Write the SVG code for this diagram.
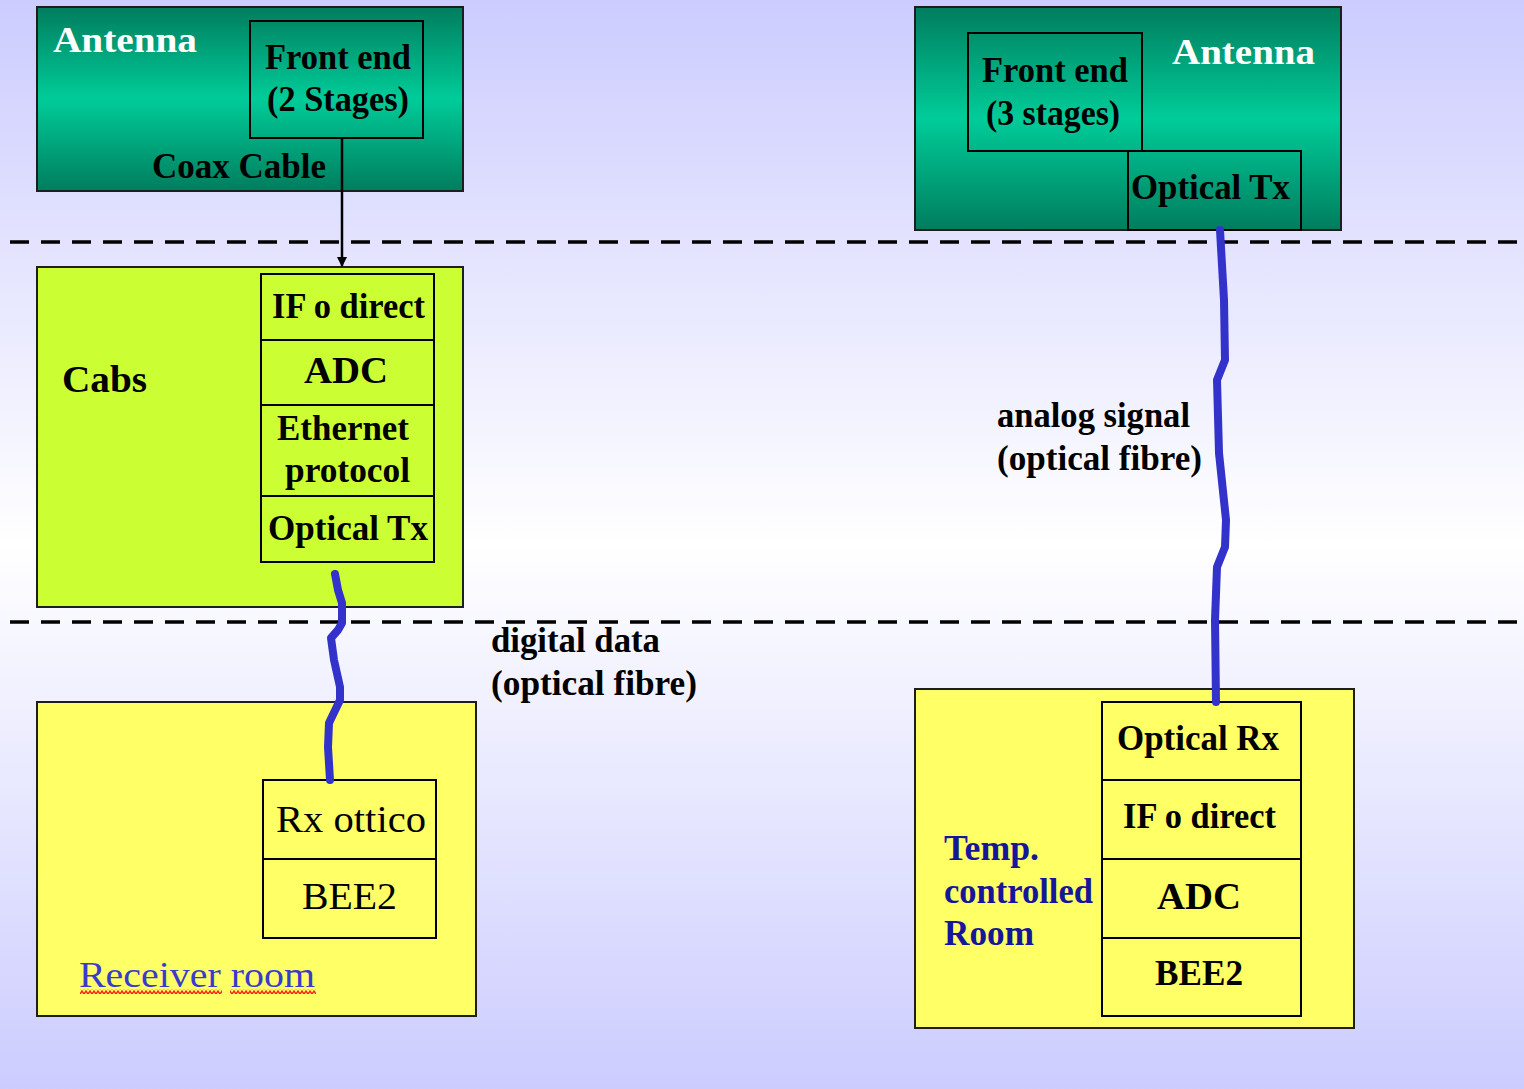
<svg xmlns="http://www.w3.org/2000/svg" width="1524" height="1089" viewBox="0 0 1524 1089">
  <defs>
    <linearGradient id="bg" x1="0" y1="0" x2="0" y2="1">
      <stop offset="0" stop-color="#ccccff"/>
      <stop offset="0.5" stop-color="#ffffff"/>
      <stop offset="1" stop-color="#ccccff"/>
    </linearGradient>
    <linearGradient id="tealLeft" gradientUnits="userSpaceOnUse" x1="0" y1="7" x2="0" y2="191">
      <stop offset="0" stop-color="#007d5e"/>
      <stop offset="0.5" stop-color="#00cc99"/>
      <stop offset="1" stop-color="#007d5e"/>
    </linearGradient>
    <linearGradient id="tealRight" gradientUnits="userSpaceOnUse" x1="0" y1="7" x2="0" y2="230">
      <stop offset="0" stop-color="#007d5e"/>
      <stop offset="0.5" stop-color="#00cc99"/>
      <stop offset="1" stop-color="#007d5e"/>
    </linearGradient>
    <pattern id="squiggle" x="0" y="0" width="4" height="5" patternUnits="userSpaceOnUse">
      <path d="M0 4 L2 1 L4 4" fill="none" stroke="#ff2020" stroke-width="1.4"/>
    </pattern>
    <marker id="arrow" viewBox="0 0 10 10" refX="9" refY="5" markerWidth="10" markerHeight="10" orient="auto" markerUnits="userSpaceOnUse">
      <path d="M0 0 L10 5 L0 10 Z" fill="#000"/>
    </marker>
  </defs>
  <style>
    .box { stroke: #1e1e1e; stroke-width: 2; }
    .cell { fill: none; stroke: #000; stroke-width: 2; }
    text { font-family: "Liberation Serif", "Times New Roman", serif; }
    .b { font-weight: bold; font-size: 35px; fill: #000; }
    .r { font-weight: normal; font-size: 38px; fill: #000; }
    .white { fill: #ffffff; }
    .navy { fill: #16169a; }
    .blue { fill: #3a3acc; }
    .sep { stroke: #000; stroke-width: 3.5; stroke-dasharray: 19 12; fill: none; }
    .fibre { fill: none; stroke: #3333cc; stroke-width: 8; stroke-linejoin: round; stroke-linecap: round; }
    .coax { fill: none; stroke: #000; stroke-width: 2.5; }
  </style>

  <!-- background -->
  <rect x="0" y="0" width="1524" height="1089" fill="url(#bg)"/>

  <!-- zone separators -->
  <line class="sep" x1="10" y1="242" x2="1524" y2="242"/>
  <line class="sep" x1="10" y1="622" x2="1524" y2="622"/>

  <!-- antenna with 2-stage front end -->
  <g id="antenna-left">
    <rect class="box" x="37" y="7" width="426" height="184" fill="url(#tealLeft)"/>
    <rect class="cell" x="250" y="21" width="173" height="117"/>
    <text class="b white" x="53" y="52" textLength="144" lengthAdjust="spacingAndGlyphs">Antenna</text>
    <text class="b" x="265" y="69" textLength="146" lengthAdjust="spacingAndGlyphs">Front end</text>
    <text class="b" x="267" y="111" textLength="142" lengthAdjust="spacingAndGlyphs">(2 Stages)</text>
    <text class="b" x="152" y="178" textLength="174" lengthAdjust="spacingAndGlyphs">Coax Cable</text>
  </g>

  <!-- antenna with 3-stage front end and optical transmitter -->
  <g id="antenna-right">
    <rect class="box" x="915" y="7" width="426" height="223" fill="url(#tealRight)"/>
    <rect class="cell" x="968" y="33" width="174" height="118"/>
    <rect class="cell" x="1128" y="151" width="173" height="79"/>
    <text class="b white" x="1172" y="64" textLength="143" lengthAdjust="spacingAndGlyphs">Antenna</text>
    <text class="b" x="982" y="82" textLength="146" lengthAdjust="spacingAndGlyphs">Front end</text>
    <text class="b" x="986" y="125" textLength="134" lengthAdjust="spacingAndGlyphs">(3 stages)</text>
    <text class="b" x="1131" y="199" textLength="159" lengthAdjust="spacingAndGlyphs">Optical Tx</text>
  </g>

  <!-- cabs -->
  <g id="cabs">
    <rect class="box" x="37" y="267" width="426" height="340" fill="#ccff33"/>
    <rect class="cell" x="261" y="274" width="173" height="288"/>
    <line class="cell" x1="261" y1="340" x2="434" y2="340"/>
    <line class="cell" x1="261" y1="405" x2="434" y2="405"/>
    <line class="cell" x1="261" y1="496" x2="434" y2="496"/>
    <text class="b" x="62" y="392" textLength="85" lengthAdjust="spacingAndGlyphs" style="font-size:38px">Cabs</text>
    <text class="b" x="272" y="318" textLength="153" lengthAdjust="spacingAndGlyphs">IF o direct</text>
    <text class="b" x="304" y="383" textLength="84" lengthAdjust="spacingAndGlyphs" style="font-size:38px">ADC</text>
    <text class="b" x="277" y="440" textLength="132" lengthAdjust="spacingAndGlyphs">Ethernet</text>
    <text class="b" x="285" y="482" textLength="125" lengthAdjust="spacingAndGlyphs">protocol</text>
    <text class="b" x="268" y="540" textLength="160" lengthAdjust="spacingAndGlyphs">Optical Tx</text>
  </g>

  <!-- receiver room -->
  <g id="receiver-room">
    <rect class="box" x="37" y="702" width="439" height="314" fill="#ffff66"/>
    <rect class="cell" x="263" y="780" width="173" height="158"/>
    <line class="cell" x1="263" y1="859" x2="436" y2="859"/>
    <text class="r" x="276" y="832" textLength="150" lengthAdjust="spacingAndGlyphs">Rx ottico</text>
    <text class="r" x="302" y="909" textLength="95" lengthAdjust="spacingAndGlyphs">BEE2</text>
    <text class="r blue" x="79" y="987" textLength="236" lengthAdjust="spacingAndGlyphs" style="font-size:36px">Receiver room</text>
    <rect x="80" y="989" width="142" height="5" fill="url(#squiggle)"/>
    <rect x="230" y="989" width="86" height="5" fill="url(#squiggle)"/>
  </g>

  <!-- temperature controlled room -->
  <g id="temp-room">
    <rect class="box" x="915" y="689" width="439" height="339" fill="#ffff66"/>
    <rect class="cell" x="1102" y="702" width="199" height="314"/>
    <line class="cell" x1="1102" y1="780" x2="1301" y2="780"/>
    <line class="cell" x1="1102" y1="859" x2="1301" y2="859"/>
    <line class="cell" x1="1102" y1="938" x2="1301" y2="938"/>
    <text class="b" x="1117" y="750" textLength="162" lengthAdjust="spacingAndGlyphs">Optical Rx</text>
    <text class="b" x="1123" y="828" textLength="153" lengthAdjust="spacingAndGlyphs">IF o direct</text>
    <text class="b" x="1157" y="909" textLength="84" lengthAdjust="spacingAndGlyphs" style="font-size:38px">ADC</text>
    <text class="b" x="1155" y="985" textLength="88" lengthAdjust="spacingAndGlyphs">BEE2</text>
    <text class="b navy" x="944" y="860" textLength="95" lengthAdjust="spacingAndGlyphs">Temp.</text>
    <text class="b navy" x="944" y="903" textLength="149" lengthAdjust="spacingAndGlyphs">controlled</text>
    <text class="b navy" x="944" y="945" textLength="90" lengthAdjust="spacingAndGlyphs">Room</text>
  </g>

  <!-- link labels -->
  <g id="labels">
    <text class="b" x="491" y="652" textLength="169" lengthAdjust="spacingAndGlyphs">digital data</text>
    <text class="b" x="491" y="695" textLength="206" lengthAdjust="spacingAndGlyphs">(optical fibre)</text>
    <text class="b" x="997" y="427" textLength="193" lengthAdjust="spacingAndGlyphs">analog signal</text>
    <text class="b" x="997" y="470" textLength="205" lengthAdjust="spacingAndGlyphs">(optical fibre)</text>
  </g>

  <!-- connectors -->
  <g id="connectors">
    <line class="coax" x1="342" y1="138" x2="342" y2="266" marker-end="url(#arrow)"/>
    <path class="fibre" d="M335 574 L338 590 L342 603 L342 623 L338 630 L331 638 L334 660 L340 687 L340 700 L329 723 L328 747 L330 780"/>
    <path class="fibre" d="M1220 230 L1224 300 L1225 360 L1217 380 L1219 453 L1226 520 L1225 547 L1217 567 L1215 620 L1216 702"/>
  </g>
</svg>
